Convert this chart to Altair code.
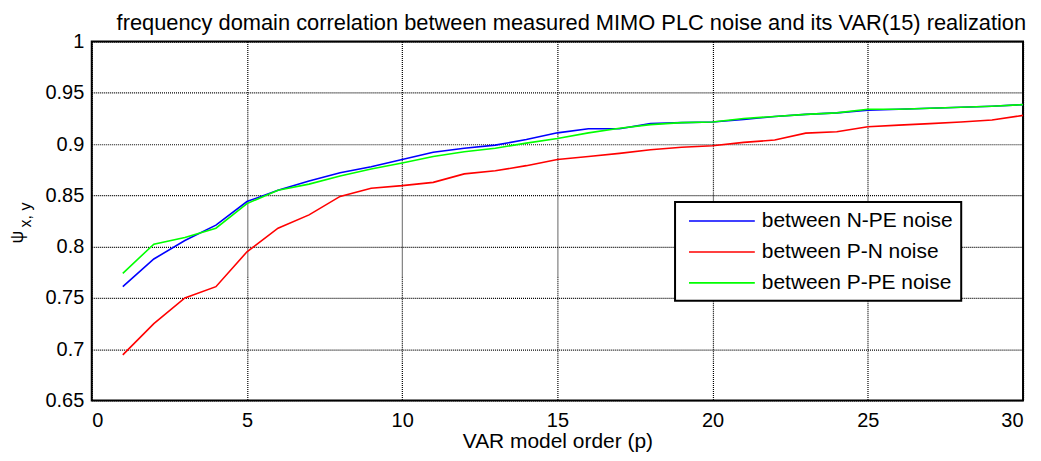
import altair as alt
import pandas as pd

orders = list(range(1, 31))
npe = [0.761, 0.788, 0.806, 0.821, 0.844, 0.855, 0.864, 0.872, 0.878, 0.885,
       0.892, 0.896, 0.899, 0.9045, 0.911, 0.915, 0.915, 0.920, 0.921, 0.9215,
       0.924, 0.927, 0.929, 0.9305, 0.933, 0.934, 0.935, 0.936, 0.937, 0.9385]
pn = [0.6945, 0.725, 0.750, 0.761, 0.795, 0.818, 0.831, 0.849, 0.857, 0.8595,
      0.8627, 0.871, 0.874, 0.879, 0.885, 0.888, 0.891, 0.8945, 0.897, 0.8984,
      0.9017, 0.904, 0.9107, 0.912, 0.917, 0.9185, 0.920, 0.9215, 0.9235, 0.928]
ppe = [0.774, 0.8025, 0.809, 0.818, 0.842, 0.855, 0.861, 0.869, 0.8758, 0.8816,
       0.888, 0.8926, 0.896, 0.901, 0.9055, 0.911, 0.9155, 0.919, 0.921, 0.9215,
       0.925, 0.927, 0.929, 0.9305, 0.934, 0.934, 0.935, 0.936, 0.937, 0.9385]

series_names = ["between N-PE noise", "between P-N noise", "between P-PE noise"]
series_colors = ["#0000FF", "#FF0000", "#00FF00"]

x_ticks = [0, 5, 10, 15, 20, 25, 30]
y_ticks = [0.65, 0.7, 0.75, 0.8, 0.85, 0.9, 0.95, 1.0]

rows = []
for name, vals in zip(series_names, [npe, pn, ppe]):
    for o, v in zip(orders, vals):
        rows.append({"order": o, "psi": v, "series": name})
df = pd.DataFrame(rows)

FONT = "Liberation Sans"

lines = alt.Chart(df).mark_line(strokeWidth=1.6).encode(
    x=alt.X("order:Q", scale=alt.Scale(domain=[0, 30], nice=False),
            axis=alt.Axis(values=x_ticks, title="VAR model order (p)",
                          labelPadding=10, titleY=47, titleBaseline="alphabetic")),
    y=alt.Y("psi:Q", scale=alt.Scale(domain=[0.65, 1.0], nice=False, zero=False),
            axis=alt.Axis(values=y_ticks, format=".2~f", title=None, labelPadding=8)),
    color=alt.Color("series:N",
                    scale=alt.Scale(domain=series_names, range=series_colors),
                    legend=alt.Legend(title=None, orient="none", legendX=585, legendY=161,
                                      symbolType="M-0.5,0H6.1", symbolSize=400,
                                      symbolStrokeWidth=1.6, labelOffset=57,
                                      rowPadding=10, padding=8, labelLimit=400,
                                      strokeColor="black", fillColor="white")),
    order="order:Q",
)

psi = alt.Chart(pd.DataFrame({"t": ["ψ"]})).mark_text(
    angle=270, fontSize=18, font=FONT, color="black").encode(
    x=alt.value(-74), y=alt.value(196), text="t:N")
sub = alt.Chart(pd.DataFrame({"t": ["x, y"]})).mark_text(
    angle=270, fontSize=16, font=FONT, color="black").encode(
    x=alt.value(-66), y=alt.value(174), text="t:N")

chart = alt.layer(lines, psi, sub).properties(
    width=934, height=360,
    title=alt.TitleParams(
        "frequency domain correlation between measured MIMO PLC noise and its VAR(15) realization",
        fontSize=21.9, font=FONT, fontWeight="normal", color="black", offset=8,
        anchor="middle", frame="group", dx=14, dy=11),
    autosize=alt.AutoSizeParams(type="none"),
    padding={"left": 84, "top": 33, "right": 10, "bottom": 60},
).configure_view(
    stroke="black", strokeWidth=2
).configure_axis(
    grid=True, gridColor="black", gridDash=[1, 1], gridOpacity=1, gridWidth=1.2,
    domain=False, ticks=False, tickSize=0,
    labelFont=FONT, labelFontSize=20, labelColor="black",
    titleFont=FONT, titleFontSize=21, titleFontWeight="normal", titleColor="black",
).configure_legend(
    labelFont=FONT, labelFontSize=21, labelColor="black", strokeWidth=2,
)

chart.save("out.html", embed_options={"renderer": "svg", "actions": False})
